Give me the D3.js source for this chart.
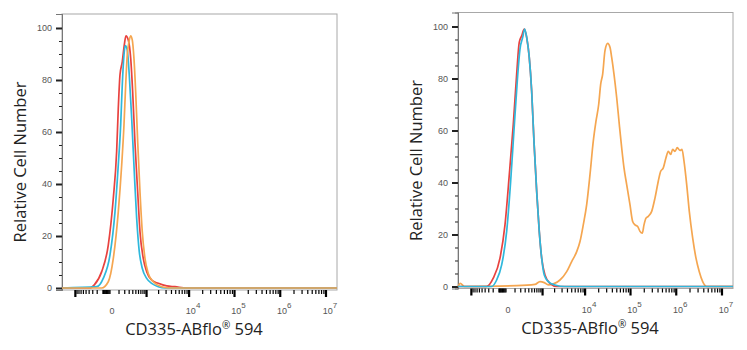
<!DOCTYPE html>
<html>
<head>
<meta charset="utf-8">
<script src="https://cdn.jsdelivr.net/npm/d3@7/dist/d3.min.js"></script>
<style>
  body { margin: 0; background: #fff; }
</style>
</head>
<body>
<div id="chart"></div>
<script>
// Data: [intensity, % of max]
var leftRed = [[-2150,0],[-375,0],[-263,1.2],[-119,6.3],[-29,16.5],[25,34.5],[66,52.4],[89,69],[115,82],[153,87],[191,93.5],[225,97],[278,95.4],[339,88.5],[396,75.5],[469,56],[567,37],[661,21.7],[816,11.4],[1006,6.3],[1350,3],[1962,1.8],[3100,0.8],[4810,0.5],[8960,0],[1.74e7,0]];
var leftCyan = [[-2150,0],[-211,0.5],[-95,3.7],[-10,12.7],[45,29.3],[89,47.3],[126,62.7],[153,78],[185,89.6],[211,93.2],[254,91.5],[302,82],[367,65.3],[446,44.7],[529,26.8],[631,14],[766,7.6],[1006,3.7],[1350,1.8],[1962,0.5],[2830,0],[1.74e7,0]];
var leftOrange = [[-2150,0],[-119,0],[-29,2.4],[25,11.4],[89,29.3],[143,47.3],[185,62.7],[219,78],[254,89.6],[295,94.7],[339,97],[384,95.4],[436,88.3],[493,75.5],[567,56.3],[661,37],[766,21.7],[907,11.4],[1107,5.6],[1480,2.4],[2366,0.5],[4040,0],[1.74e7,0]];

var rightRed = [[-2150,0],[-356,0],[-199,3.2],[-84,10.9],[-21,23.7],[25,43],[75,62.4],[126,81.7],[171,93.9],[219,96.4],[278,99],[339,95.8],[414,88.1],[493,75.2],[578,55.9],[692,36.6],[816,21.2],[947,10.9],[1154,4.4],[1541,1.2],[2240,0],[1.74e7,0]];
var rightCyan = [[-2150,0],[-232,0],[-136,2.5],[-61,8.3],[-3,21.2],[41,40.5],[84,59.8],[136,79],[185,91.3],[241,95.8],[287,99],[347,95.2],[414,88.1],[493,75.2],[578,55.9],[692,36.6],[816,21.2],[947,10.9],[1107,4.4],[1398,1.9],[2040,0.6],[3500,0],[1.74e7,0]];
var rightOrange = [[-2150,0],[-1900,1.2],[-1500,0],[126,0.3],[618,0.8],[853,1.9],[1107,1.5],[1398,0.6],[1930,1.1],[2680,2.5],[3836,5.7],[4990,9.6],[6480,13.4],[7690,17.3],[9100,23.7],[10840,31.5],[12840,43],[15190,55.9],[17440,63.6],[20000,70],[22140,77.8],[24500,81.7],[27540,90.7],[31560,93.5],[35480,92],[38660,88.1],[43420,81.7],[49760,72.7],[56740,62.4],[64000,53.4],[72000,45.6],[82460,39.2],[97340,31.5],[111500,25],[125300,23.7],[143500,23.1],[161200,21.2],[181000,20.5],[197200,23.7],[218000,26.3],[244800,27],[290600,28.9],[343000,34],[405000,40.5],[457000,44.3],[521000,45.6],[597000,49.5],[670000,52],[756000,50.8],[836000,52.7],[939000,52],[1054000,53.4],[1208000,52.3],[1336000,52.7],[1478000,48.2],[1693000,39.2],[1930000,28.9],[2290000,18.6],[2702000,10.9],[3190000,5.7],[3784000,1.9],[4632000,0],[1.74e7,0]];

var yMajorTicks = [0, 20, 40, 60, 80, 100];
var yMinorTicks = d3.range(0, 101, 5);
var xMajorTicks = [-1000, 1000, 1e4, 1e5, 1e6, 1e7];
var xLabelValues = [0, 1e4, 1e5, 1e6, 1e7];
var xLabelExps = ["", "4", "5", "6", "7"];
var xTitle = "CD335-ABflo";
var xTitleEnd = " 594";
var yTitle = "Relative Cell Number";

var red = "#e8423f", cyan = "#2fb8dc", orange = "#f5a650";

var svgWidth = 747;
var svgHeight = 350;
var width = 275;
var height = 276;

var svg = d3.select("#chart")
  .append("svg")
  .attr("width", svgWidth)
  .attr("height", svgHeight);

// minor x ticks: 1..9 x 10^k, plus a dense run just below zero
var xMinorTicks = [];
[1e3, 1e4, 1e5, 1e6].forEach(function(p) {
  for (var m = 2; m <= 9; m++) xMinorTicks.push(m * p);
});
for (var m = 1; m <= 9; m++) {
  xMinorTicks.push(m * 100);
  xMinorTicks.push(-m * 100);
  xMinorTicks.push(-m * 10);
}

function drawPanel(left, top, curves) {
  var g = svg.append("g")
    .attr("transform", `translate(${left}, ${top})`);

  var x = d3.scaleSymlog()
    .constant(200)
    .domain([-2150, 1.74e7])
    .range([0, width]);

  var y = d3.scaleLinear()
    .domain([-0.77, 105.38])
    .range([height, 0]);

  // frame
  g.append("rect")
    .attr("width", width)
    .attr("height", height)
    .attr("fill", "none")
    .attr("stroke", "#a8a8a8")
    .attr("stroke-width", 1);

  // y axis
  var yMinor = g.append("g")
    .call(d3.axisLeft(y).tickValues(yMinorTicks).tickSize(3).tickFormat(""));
  var yMajor = g.append("g")
    .call(d3.axisLeft(y).tickValues(yMajorTicks).tickSize(6).tickPadding(4));
  [yMinor, yMajor].forEach(function(a) {
    a.select(".domain").attr("stroke", "#777");
    a.selectAll(".tick line").attr("stroke", "#222");
  });
  yMajor.selectAll(".tick line").attr("stroke-width", 2);
  yMajor.selectAll(".tick text")
    .attr("font-family", "Liberation Sans, Arial, sans-serif")
    .attr("font-size", "9px")
    .attr("fill", "#555");

  // x axis, ticks hang below the frame
  var xAxis = g.append("g")
    .attr("class", "x-ticks");
  xAxis.selectAll("path.minor")
    .data(xMinorTicks)
    .enter()
    .append("path")
    .attr("class", "minor")
    .attr("d", d => `M${x(d)},${height}v4`)
    .attr("stroke", "#000")
    .attr("stroke-width", 1.2);
  xAxis.selectAll("path.major")
    .data(xMajorTicks)
    .enter()
    .append("path")
    .attr("class", "major")
    .attr("d", d => `M${x(d)},${height}v7`)
    .attr("stroke", "#000")
    .attr("stroke-width", 2.2);

  var labels = g.append("g")
    .attr("font-family", "Liberation Sans, Arial, sans-serif")
    .attr("fill", "#555");
  xLabelValues.forEach(function(v, i) {
    var t = labels.append("text")
      .attr("x", x(v) + (xLabelExps[i] ? 4 : 1))
      .attr("y", height + 24)
      .attr("text-anchor", "middle")
      .attr("font-size", "9px")
      .text(xLabelExps[i] ? "10" : "0");
    if (xLabelExps[i]) {
      t.append("tspan")
        .attr("dy", -6)
        .attr("font-size", "8px")
        .text(xLabelExps[i]);
    }
  });

  // curves
  var line = d3.line()
    .x(d => x(d[0]))
    .y(d => y(d[1]))
    .curve(d3.curveMonotoneX);

  curves.forEach(function(c) {
    g.append("path")
      .datum(c.data)
      .attr("d", line)
      .attr("fill", "none")
      .attr("stroke", c.color)
      .attr("stroke-width", 1.7)
      .attr("stroke-linejoin", "round");
  });

  // axis titles
  g.append("text")
    .attr("transform", "rotate(-90)")
    .attr("x", -148)
    .attr("y", -36)
    .attr("text-anchor", "middle")
    .attr("font-family", "Open Sans, sans-serif")
    .attr("font-size", "16.5px")
    .attr("fill", "#222")
    .text(yTitle);

  var xt = g.append("text")
    .attr("x", 132)
    .attr("y", height + 45)
    .attr("text-anchor", "middle")
    .attr("font-family", "Open Sans, sans-serif")
    .attr("font-size", "16.5px")
    .attr("fill", "#222")
    .text(xTitle);
  xt.append("tspan")
    .attr("dy", -6)
    .attr("font-size", "10px")
    .text("®");
  xt.append("tspan")
    .attr("dy", 6)
    .text(xTitleEnd);
}

drawPanel(62, 14, [
  {data: leftRed, color: red},
  {data: leftCyan, color: cyan},
  {data: leftOrange, color: orange}
]);

drawPanel(458, 12.5, [
  {data: rightOrange, color: orange},
  {data: rightRed, color: red},
  {data: rightCyan, color: cyan}
]);
</script>
</body>
</html>
